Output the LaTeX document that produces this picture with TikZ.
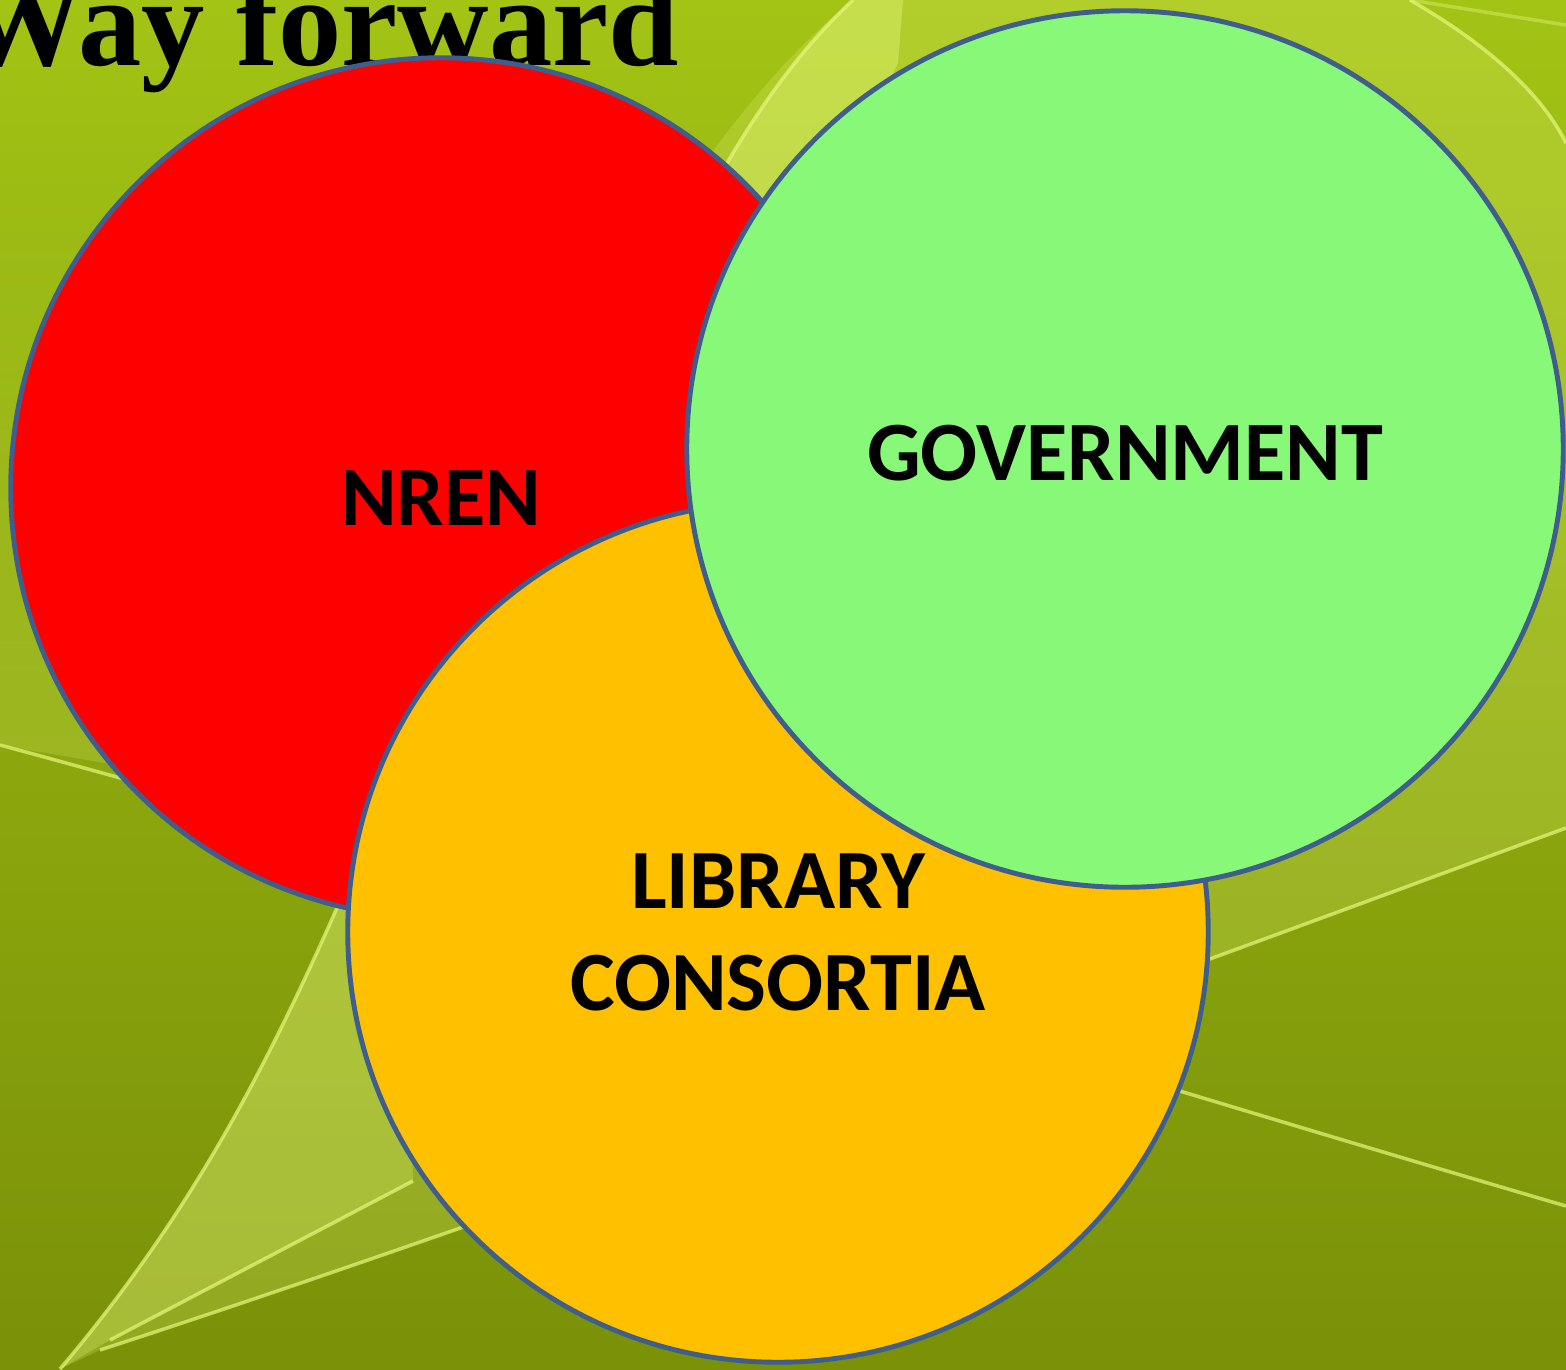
\documentclass[tikz,border=0pt]{standalone}
\usepackage{fontspec}
\setmainfont{Liberation Serif}
\newfontfamily\labelfont{Carlito}
\usetikzlibrary{positioning,fadings}

\definecolor{bgtop}{HTML}{A3C315}
\definecolor{bgbottom}{HTML}{7A9108}
\definecolor{swoosh}{HTML}{E6F87C}
\definecolor{rimblue}{HTML}{3F5E8E}
\definecolor{nrenred}{HTML}{FF0000}
\definecolor{govgreen}{HTML}{87F877}
\definecolor{libgold}{HTML}{FFC000}

\tikzset{
  venn/.style={circle, draw=rimblue, line width=1.4pt, inner sep=0pt},
  vennlabel/.style={font=\labelfont\bfseries\fontsize{24}{29}\selectfont, text=black, align=center, inner sep=0pt},
  glow/.style={swoosh, line width=1pt, opacity=0.7},
}

\begin{document}
\begin{tikzpicture}[x=0.01cm, y=-0.01cm]
                    \useasboundingbox (0,0) rectangle (1566,1369);
                    % Background
                    \shade[top color=bgtop, bottom color=bgbottom] (0,0) rectangle (1566,1369);
                    % Light ribbon
                    \fill[swoosh, opacity=0.22] (60,1369) .. controls (220,1180) and (300,1000) .. (400,760)
                        .. controls (540,420) and (680,140) .. (853,0) -- (1410,0)
                        .. controls (1480,40) and (1540,90) .. (1566,143) -- (1566,828)
                        .. controls (1100,1000) and (500,1220) .. (100,1350) -- cycle;
                    \fill[swoosh, opacity=0.25] (60,1369) .. controls (220,1180) and (300,1000) .. (400,760)
                        -- (413,1181) -- (110,1340) -- cycle;
                    \fill[swoosh, opacity=0.4] (727,163) .. controls (770,90) and (810,40) .. (853,0)
                        -- (903,0) -- (898,63) -- (800,260) -- cycle;
                    \fill[swoosh, opacity=0.2, path fading=north] (0,200) -- (320,200) -- (320,800) -- (0,745) -- cycle;
                    % Light lines
                    \draw[glow] (0,745) .. controls (500,880) and (1100,1070) .. (1566,1206);
                    \draw[glow] (100,1350) .. controls (500,1220) and (1100,1000) .. (1566,828);
                    \draw[glow] (110,1340) -- (413,1181);
                    \draw[glow] (60,1369) .. controls (220,1180) and (300,1000) .. (400,760);
                    \draw[glow] (727,163) .. controls (770,90) and (810,40) .. (853,0);
                    \draw[glow] (1410,0) .. controls (1480,40) and (1540,90) .. (1566,143);
                    \draw[glow, opacity=0.4] (1410,0) -- (1566,25);
                    % Title
                    \node[anchor=base east, inner sep=0pt, font=\bfseries\fontsize{36}{40}\selectfont] (heading) at (680,65) {Way forward};
                    % Circles
                    \node[venn, fill=nrenred, minimum size=8.6cm] (nren) at (441,488) {};
                    \node[venn, fill=libgold, minimum size=8.6cm] (consortia) at (778,932) {};
                    \node[venn, fill=govgreen, minimum size=8.76cm] (gov) at (1125,449) {};
                    % Labels
                    \node[vennlabel] (nrenlbl) at ([yshift=-0.1cm]nren.center) {NREN};
                    \node[vennlabel] (govlbl) at ([yshift=-0.04cm]gov.center) {GOVERNMENT};
                    \node[vennlabel] (consortialbl) at (consortia.center) {LIBRARY\\CONSORTIA};
                \end{tikzpicture}
\end{document}
